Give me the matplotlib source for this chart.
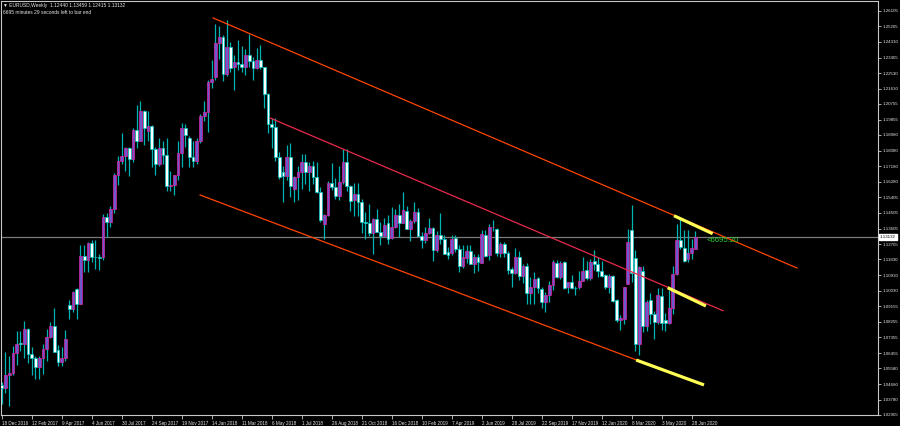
import pandas as pd
import matplotlib
matplotlib.use("Agg")
import matplotlib.pyplot as plt
from matplotlib.transforms import blended_transform_factory

plt.rcParams["font.family"] = ["Liberation Sans", "DejaVu Sans"]

# weekly bars, EURUSD, 18 Dec 2016 .. 5 Jul 2020
weeks = pd.date_range("2016-12-18", periods=186, freq="W-SUN")

opens = [
    1.0460, 1.0448,
    1.0518, 1.0530, 1.0645, 1.0705, 1.0698, 1.0785, 1.0640, 1.0615, 1.0565, 1.0620, 1.0672, 1.0740, 1.0800,
    1.0665, 1.0595, 1.0615, 1.0920, 1.0898, 1.1015, 1.0930, 1.1205, 1.1182, 1.1280, 1.1200, 1.1200, 1.1195,
    1.1425, 1.1400, 1.1470, 1.1665, 1.1750, 1.1775, 1.1820, 1.1760, 1.1925, 1.1860, 1.2035, 1.1920, 1.1950,
    1.1815, 1.1730, 1.1820, 1.1785, 1.1605, 1.1610, 1.1665, 1.1795, 1.1935, 1.1880, 1.1770, 1.1750, 1.1860,
    1.2005, 1.2030, 1.2200, 1.2230, 1.2425, 1.2460, 1.2250, 1.2405, 1.2285, 1.2315, 1.2305, 1.2285, 1.2355,
    1.2320, 1.2280, 1.2330, 1.2285, 1.2130, 1.1960, 1.1945, 1.1770, 1.1685, 1.1660, 1.1770, 1.1590, 1.1655,
    1.1685, 1.1745, 1.1685, 1.1720, 1.1655, 1.1570, 1.1385, 1.1440, 1.1620, 1.1600, 1.1550, 1.1625, 1.1745,
    1.1605, 1.1525, 1.1560, 1.1515, 1.1400, 1.1390, 1.1335, 1.1415, 1.1340, 1.1320, 1.1390, 1.1305, 1.1370,
    1.1440, 1.1395, 1.1460, 1.1360, 1.1405, 1.1455, 1.1320, 1.1292, 1.1336, 1.1365, 1.1235, 1.1322, 1.1300,
    1.1225, 1.1220, 1.1305, 1.1245, 1.1146, 1.1192, 1.1232, 1.1157, 1.1200, 1.1162, 1.1322, 1.1208, 1.1368,
    1.1358, 1.1222, 1.1271, 1.1220, 1.1128, 1.1105, 1.1198, 1.1088, 1.1145, 1.0989, 1.1026, 1.1077, 1.1013,
    1.0940, 1.0979, 1.1036, 1.1162, 1.1084, 1.1170, 1.1023, 1.1055, 1.1022, 1.1023, 1.1060, 1.1122, 1.1075,
    1.1176, 1.1156, 1.1118, 1.1094, 1.1026, 1.1088, 1.0950, 1.0836, 1.0840, 1.1045, 1.1351, 1.1190, 1.0697,
    1.1116, 1.0800, 1.0950, 1.0870, 1.0826, 1.0973, 1.0836, 1.0817, 1.0904, 1.1100, 1.1295, 1.1248, 1.1185,
    1.1220, 1.12440,
]
highs = [
    1.0480, 1.0652,
    1.0630, 1.0685, 1.0775, 1.0775, 1.0830, 1.0790, 1.0680, 1.0630, 1.0630, 1.0700, 1.0785, 1.0825, 1.0905,
    1.0690, 1.0680, 1.0780, 1.0950, 1.1000, 1.1020, 1.1265, 1.1268, 1.1285, 1.1295, 1.1296, 1.1215, 1.1445,
    1.1450, 1.1490, 1.1680, 1.1775, 1.1910, 1.1830, 1.1830, 1.1940, 1.2070, 1.2092, 1.2040, 1.2035, 1.1955,
    1.1830, 1.1880, 1.1860, 1.1880, 1.1690, 1.1665, 1.1860, 1.1965, 1.1960, 1.1890, 1.1860, 1.1880, 1.2020,
    1.2090, 1.2215, 1.2325, 1.2535, 1.2520, 1.2470, 1.2555, 1.2430, 1.2355, 1.2445, 1.2410, 1.2390, 1.2475,
    1.2345, 1.2395, 1.2415, 1.2290, 1.2140, 1.1995, 1.1995, 1.1800, 1.1720, 1.1840, 1.1850, 1.1660, 1.1720,
    1.1790, 1.1790, 1.1745, 1.1750, 1.1745, 1.1600, 1.1445, 1.1635, 1.1735, 1.1650, 1.1720, 1.1815, 1.1815,
    1.1610, 1.1620, 1.1620, 1.1530, 1.1455, 1.1500, 1.1420, 1.1470, 1.1400, 1.1420, 1.1440, 1.1485, 1.1470,
    1.1500, 1.1570, 1.1490, 1.1415, 1.1515, 1.1480, 1.1340, 1.1370, 1.1420, 1.1370, 1.1345, 1.1450, 1.1325,
    1.1255, 1.1325, 1.1325, 1.1265, 1.1265, 1.1265, 1.1265, 1.1215, 1.1215, 1.1350, 1.1350, 1.1385, 1.1410,
    1.1365, 1.1285, 1.1285, 1.1230, 1.1140, 1.1250, 1.1230, 1.1155, 1.1165, 1.1085, 1.1110, 1.1085, 1.1025,
    1.0999, 1.1060, 1.1180, 1.1180, 1.1175, 1.1175, 1.1055, 1.1095, 1.1030, 1.1115, 1.1200, 1.1175, 1.1185,
    1.1240, 1.1200, 1.1175, 1.1100, 1.1100, 1.1095, 1.0955, 1.0865, 1.1025, 1.1355, 1.1495, 1.1235, 1.1147,
    1.1147, 1.0950, 1.0990, 1.0890, 1.1020, 1.1020, 1.0875, 1.1010, 1.1145, 1.1385, 1.1422, 1.1350, 1.1350,
    1.1300, 1.13459,
]
lows = [
    1.0352, 1.0415,
    1.0340, 1.0520, 1.0580, 1.0660, 1.0620, 1.0590, 1.0520, 1.0495, 1.0495, 1.0525, 1.0600, 1.0735, 1.0650,
    1.0570, 1.0570, 1.0600, 1.0840, 1.0880, 1.0840, 1.0930, 1.1110, 1.1110, 1.1170, 1.1130, 1.1120, 1.1180,
    1.1310, 1.1370, 1.1450, 1.1610, 1.1730, 1.1690, 1.1660, 1.1740, 1.1825, 1.1860, 1.1840, 1.1860, 1.1715,
    1.1670, 1.1720, 1.1730, 1.1575, 1.1575, 1.1555, 1.1640, 1.1715, 1.1830, 1.1715, 1.1715, 1.1730, 1.1850,
    1.1980, 1.1915, 1.2165, 1.2210, 1.2335, 1.2205, 1.2235, 1.2260, 1.2155, 1.2270, 1.2260, 1.2240, 1.2285,
    1.2215, 1.2275, 1.2275, 1.2055, 1.1910, 1.1820, 1.1750, 1.1645, 1.1510, 1.1640, 1.1540, 1.1510, 1.1525,
    1.1590, 1.1615, 1.1575, 1.1615, 1.1565, 1.1400, 1.1300, 1.1430, 1.1580, 1.1530, 1.1525, 1.1615, 1.1575,
    1.1460, 1.1430, 1.1430, 1.1335, 1.1300, 1.1315, 1.1215, 1.1340, 1.1265, 1.1310, 1.1270, 1.1300, 1.1365,
    1.1310, 1.1390, 1.1355, 1.1290, 1.1395, 1.1315, 1.1250, 1.1280, 1.1330, 1.1175, 1.1225, 1.1270, 1.1215,
    1.1185, 1.1210, 1.1225, 1.1110, 1.1135, 1.1165, 1.1155, 1.1105, 1.1115, 1.1160, 1.1200, 1.1180, 1.1345,
    1.1205, 1.1195, 1.1200, 1.1100, 1.1026, 1.1100, 1.1065, 1.1050, 1.0925, 1.0925, 1.0925, 1.0990, 1.0905,
    1.0880, 1.0940, 1.1005, 1.1075, 1.1070, 1.1015, 1.0990, 1.1015, 1.0980, 1.1015, 1.1060, 1.1065, 1.1065,
    1.1125, 1.1085, 1.1085, 1.1015, 1.0990, 1.0940, 1.0825, 1.0778, 1.0810, 1.1040, 1.1055, 1.0655, 1.0636,
    1.0768, 1.0770, 1.0815, 1.0725, 1.0810, 1.0780, 1.0775, 1.0815, 1.0870, 1.1095, 1.1245, 1.1168, 1.1168,
    1.1185, 1.12415,
]
closes = [
    1.0448, 1.0518,
    1.0530, 1.0645, 1.0700, 1.0698, 1.0785, 1.0640, 1.0615, 1.0565, 1.0620, 1.0672, 1.0740, 1.0800, 1.0652,
    1.0595, 1.0615, 1.0725, 1.0898, 1.0995, 1.0930, 1.1205, 1.1182, 1.1280, 1.1195, 1.1195, 1.1190, 1.1425,
    1.1400, 1.1470, 1.1665, 1.1750, 1.1775, 1.1820, 1.1760, 1.1925, 1.1860, 1.2035, 1.1940, 1.1950, 1.1815,
    1.1730, 1.1820, 1.1785, 1.1605, 1.1610, 1.1665, 1.1795, 1.1935, 1.1895, 1.1770, 1.1750, 1.1860, 1.2005,
    1.2030, 1.2200, 1.2220, 1.2425, 1.2460, 1.2250, 1.2405, 1.2280, 1.2315, 1.2305, 1.2285, 1.2355, 1.2320,
    1.2280, 1.2330, 1.2285, 1.2130, 1.1960, 1.1945, 1.1770, 1.1655, 1.1660, 1.1770, 1.1605, 1.1655, 1.1685,
    1.1745, 1.1685, 1.1720, 1.1655, 1.1570, 1.1410, 1.1440, 1.1620, 1.1600, 1.1550, 1.1625, 1.1745, 1.1605,
    1.1520, 1.1560, 1.1515, 1.1400, 1.1390, 1.1335, 1.1415, 1.1340, 1.1315, 1.1380, 1.1300, 1.1370, 1.1440,
    1.1395, 1.1465, 1.1360, 1.1405, 1.1455, 1.1320, 1.1292, 1.1336, 1.1365, 1.1235, 1.1322, 1.1300, 1.1215,
    1.1210, 1.1300, 1.1245, 1.1146, 1.1198, 1.1230, 1.1157, 1.1200, 1.1170, 1.1330, 1.1205, 1.1368, 1.1372,
    1.1222, 1.1271, 1.1220, 1.1122, 1.1105, 1.1198, 1.1088, 1.1145, 1.0990, 1.1026, 1.1070, 1.1019, 1.0940,
    1.0979, 1.1036, 1.1170, 1.1084, 1.1165, 1.1019, 1.1055, 1.1020, 1.1018, 1.1060, 1.1118, 1.1077, 1.1170,
    1.1156, 1.1118, 1.1088, 1.1023, 1.1088, 1.0946, 1.0836, 1.0845, 1.1023, 1.1282, 1.1105, 1.0697, 1.1140,
    1.0800, 1.0938, 1.0870, 1.0826, 1.0979, 1.0816, 1.0817, 1.0904, 1.1100, 1.1295, 1.1256, 1.1176, 1.1220,
    1.1248, 1.13132,
]

price_ticks = [
    1.26105, 1.25205, 1.24310, 1.23405, 1.22530, 1.21630, 1.20755, 1.19855, 1.18980,
    1.18080, 1.17180, 1.16280, 1.15405, 1.14505, 1.13605, 1.12705, 1.11830, 1.10930,
    1.10030, 1.09155, 1.08255, 1.07355, 1.06455, 1.05580, 1.04680, 1.03780, 1.02905,
]
last_price = 1.13132

# trend line anchors: (bar index, price)
upper_line_x, upper_line_y = [56.35, 212.1], [1.2569, 1.1134]
middle_line_x, middle_line_y = [71.55, 192.35], [1.1995, 1.0889]
lower_line_x, lower_line_y = [52.9, 169.3], [1.1553, 1.0606]
yellow_up_x, yellow_up_y = [179.3, 189.6], [1.1434, 1.1331]
yellow_mid_x, yellow_mid_y = [177.6, 187.8], [1.1021, 1.0916]
yellow_low_x, yellow_low_y = [169.2, 187.3], [1.0606, 1.0463]

idx = list(range(len(weeks)))

fig = plt.figure(figsize=(9, 4.26), dpi=100, facecolor="black")
ax = fig.add_axes([1 / 900, 11 / 426, 877 / 900, 414 / 426])
ax.set_facecolor("black")
ax.set_xlim(-0.19, 233.7)
ax.set_ylim(1.02905, 1.26662)

# current price line
ax.axhline(last_price, color="#7a7a7a", lw=0.9, zorder=1)

# wicks
ax.vlines(idx, lows, highs, colors="#00b4b4", lw=0.9, zorder=2)

# bodies
bull = [i for i in idx if closes[i] >= opens[i]]
bear = [i for i in idx if closes[i] < opens[i]]
for sel, fill, edge in [(bull, "#6a5acd", "#e020a0"), (bear, "white", "#00c8c8")]:
    bottoms = [min(opens[i], closes[i]) for i in sel]
    heights = [max(abs(closes[i] - opens[i]), 0.00015) for i in sel]
    ax.bar(sel, heights, bottom=bottoms, width=0.75, color=fill,
           edgecolor=edge, linewidth=0.5, zorder=3)

# channel lines
ax.plot(upper_line_x, upper_line_y, color="#ff4500", lw=0.9, zorder=4)
ax.plot(middle_line_x, middle_line_y, color="#e82a4c", lw=0.9, zorder=4)
ax.plot(lower_line_x, lower_line_y, color="#ff4500", lw=0.9, zorder=4)
for xs, ys in [(yellow_up_x, yellow_up_y), (yellow_mid_x, yellow_mid_y),
               (yellow_low_x, yellow_low_y)]:
    ax.plot(xs, ys, color="#ffff55", lw=2.3, solid_capstyle="butt", zorder=5)

ax.text(188.0, 1.1289, "<6695.20", color="#2ad02a", fontsize=5.6,
        va="center", ha="left", zorder=6)

# frame and axes
for sp in ax.spines.values():
    sp.set_color("#c8c8c8")
    sp.set_linewidth(0.8)

ax.yaxis.tick_right()
ax.set_yticks(price_ticks)
ax.set_yticklabels([f"{p:.5f}" for p in price_ticks])
ax.tick_params(axis="y", colors="#c8c8c8", labelcolor="#e6e6e6",
               labelsize=3.2, length=2.5, width=0.6, pad=1.0)

date_idx = idx[::8]
ax.set_xticks(date_idx)
ax.set_xticklabels([f"{weeks[i].day} {weeks[i]:%b %Y}" for i in date_idx], ha="left")
ax.tick_params(axis="x", colors="#c8c8c8", labelcolor="#e6e6e6",
               labelsize=3.3, length=3, width=0.6, pad=1.0)

tr = blended_transform_factory(ax.transAxes, ax.transData)
ax.text(1.0022, last_price, f"{last_price:.5f}", transform=tr, fontsize=3.2,
        color="black", va="center", ha="left", zorder=7,
        bbox=dict(boxstyle="square,pad=0.2", fc="white", ec="white"))

fig.text(3 / 900, 1 - 5 / 426, "\u25bc EURUSD,Weekly  1.12440 1.13459 1.12415 1.13132",
         fontsize=3.5, color="#e6e6e6", va="center", ha="left")
fig.text(3 / 900, 1 - 12.5 / 426, "6695 minutes 29 seconds left to bar end",
         fontsize=3.5, color="#e6e6e6", va="center", ha="left")

fig.savefig("out.png", dpi=100, facecolor="black")
